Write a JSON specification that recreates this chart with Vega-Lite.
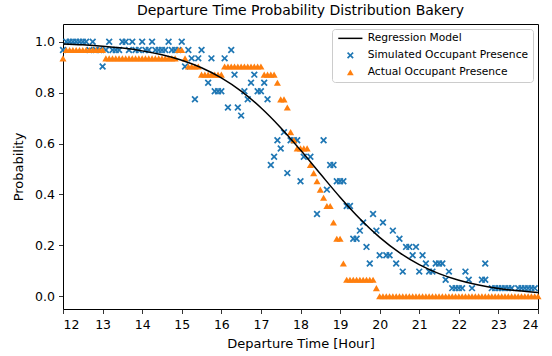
{
  "$schema": "https://vega.github.io/schema/vega-lite/v6.json",
  "width": 475,
  "height": 285,
  "autosize": {"type": "none"},
  "padding": {"left": 63, "top": 24, "right": 14, "bottom": 47},
  "title": {"text": "Departure Time Probability Distribution Bakery", "fontSize": 14, "fontWeight": "normal", "offset": 6, "color": "black", "font": "DejaVu Sans"},
  "config": {
    "font": "DejaVu Sans",
    "view": {"stroke": "black", "strokeWidth": 1},
    "axis": {"grid": false, "domain": false, "tickColor": "black", "tickSize": 4.5, "tickWidth": 0.8, "labelColor": "black", "labelFontSize": 12.5, "titleColor": "black", "titleFontSize": 13, "titleFontWeight": "normal", "labelPadding": 4}
  },
  "datasets": {
    "curve": [
      {"t": 12, "p": 0.9918}, {"t": 12.5, "p": 0.9882}, {"t": 13, "p": 0.9829}, {"t": 13.5, "p": 0.9753},
      {"t": 14, "p": 0.9644}, {"t": 14.5, "p": 0.9491}, {"t": 15, "p": 0.9276}, {"t": 15.5, "p": 0.898},
      {"t": 16, "p": 0.8581}, {"t": 16.5, "p": 0.8061}, {"t": 17, "p": 0.7408}, {"t": 17.5, "p": 0.6626},
      {"t": 18, "p": 0.5744}, {"t": 18.5, "p": 0.4813}, {"t": 19, "p": 0.3894}, {"t": 19.5, "p": 0.3047},
      {"t": 20, "p": 0.2315}, {"t": 20.5, "p": 0.1715}, {"t": 21, "p": 0.1246}, {"t": 21.5, "p": 0.0891},
      {"t": 22, "p": 0.063}, {"t": 22.5, "p": 0.0441}, {"t": 23, "p": 0.0308}, {"t": 23.5, "p": 0.0214},
      {"t": 24, "p": 0.0148}
    ],
    "sim": [
      {"t": 12.0, "p": 0.968}, {"t": 12.083, "p": 1}, {"t": 12.167, "p": 1}, {"t": 12.25, "p": 1},
      {"t": 12.333, "p": 1}, {"t": 12.417, "p": 1}, {"t": 12.5, "p": 1}, {"t": 12.583, "p": 1},
      {"t": 12.667, "p": 0.968}, {"t": 12.75, "p": 1}, {"t": 12.833, "p": 0.968}, {"t": 12.917, "p": 0.968},
      {"t": 13.0, "p": 0.903}, {"t": 13.083, "p": 0.968}, {"t": 13.167, "p": 1}, {"t": 13.25, "p": 0.968},
      {"t": 13.333, "p": 0.968}, {"t": 13.417, "p": 0.968}, {"t": 13.5, "p": 1}, {"t": 13.583, "p": 1},
      {"t": 13.667, "p": 0.968}, {"t": 13.75, "p": 1}, {"t": 13.833, "p": 0.968}, {"t": 13.917, "p": 0.968},
      {"t": 14.0, "p": 1}, {"t": 14.083, "p": 0.968}, {"t": 14.167, "p": 0.968}, {"t": 14.25, "p": 1},
      {"t": 14.333, "p": 0.968}, {"t": 14.417, "p": 0.968}, {"t": 14.5, "p": 0.968}, {"t": 14.583, "p": 0.968},
      {"t": 14.667, "p": 1}, {"t": 14.75, "p": 0.968}, {"t": 14.833, "p": 0.968}, {"t": 14.917, "p": 0.968},
      {"t": 15.0, "p": 1}, {"t": 15.083, "p": 0.903}, {"t": 15.167, "p": 0.968}, {"t": 15.25, "p": 0.935},
      {"t": 15.333, "p": 0.774}, {"t": 15.417, "p": 0.935}, {"t": 15.5, "p": 0.968}, {"t": 15.667, "p": 0.839},
      {"t": 15.75, "p": 0.935}, {"t": 15.833, "p": 0.806}, {"t": 15.917, "p": 0.806}, {"t": 16.0, "p": 0.806},
      {"t": 16.083, "p": 0.935}, {"t": 16.167, "p": 0.742}, {"t": 16.25, "p": 0.968}, {"t": 16.333, "p": 0.871},
      {"t": 16.417, "p": 0.742}, {"t": 16.5, "p": 0.71}, {"t": 16.583, "p": 0.806}, {"t": 16.667, "p": 0.774},
      {"t": 16.75, "p": 0.839}, {"t": 16.833, "p": 0.871}, {"t": 16.917, "p": 0.806}, {"t": 17.0, "p": 0.806},
      {"t": 17.083, "p": 0.839}, {"t": 17.167, "p": 0.774}, {"t": 17.25, "p": 0.516}, {"t": 17.333, "p": 0.548},
      {"t": 17.417, "p": 0.613}, {"t": 17.5, "p": 0.581}, {"t": 17.583, "p": 0.645}, {"t": 17.667, "p": 0.484},
      {"t": 17.75, "p": 0.613}, {"t": 17.833, "p": 0.613}, {"t": 17.917, "p": 0.613}, {"t": 18.0, "p": 0.452},
      {"t": 18.083, "p": 0.548}, {"t": 18.25, "p": 0.548}, {"t": 18.417, "p": 0.323}, {"t": 18.583, "p": 0.613},
      {"t": 18.667, "p": 0.419}, {"t": 18.75, "p": 0.516}, {"t": 18.833, "p": 0.516}, {"t": 18.917, "p": 0.452},
      {"t": 19.0, "p": 0.452}, {"t": 19.083, "p": 0.452}, {"t": 19.167, "p": 0.355}, {"t": 19.25, "p": 0.355},
      {"t": 19.333, "p": 0.226}, {"t": 19.417, "p": 0.226}, {"t": 19.5, "p": 0.258}, {"t": 19.583, "p": 0.29},
      {"t": 19.667, "p": 0.194}, {"t": 19.75, "p": 0.129}, {"t": 19.833, "p": 0.323}, {"t": 19.917, "p": 0.258},
      {"t": 20.0, "p": 0.161}, {"t": 20.083, "p": 0.29}, {"t": 20.167, "p": 0.161}, {"t": 20.25, "p": 0.161},
      {"t": 20.333, "p": 0.258}, {"t": 20.417, "p": 0.129}, {"t": 20.5, "p": 0.226}, {"t": 20.583, "p": 0.097},
      {"t": 20.667, "p": 0.194}, {"t": 20.75, "p": 0.194}, {"t": 20.833, "p": 0.161}, {"t": 20.917, "p": 0.194},
      {"t": 21.0, "p": 0.097}, {"t": 21.083, "p": 0.161}, {"t": 21.167, "p": 0.129}, {"t": 21.25, "p": 0.097},
      {"t": 21.333, "p": 0.097}, {"t": 21.417, "p": 0.129}, {"t": 21.5, "p": 0.129}, {"t": 21.583, "p": 0.129},
      {"t": 21.667, "p": 0.065}, {"t": 21.75, "p": 0.097}, {"t": 21.833, "p": 0.032}, {"t": 21.917, "p": 0.032},
      {"t": 22.0, "p": 0.032}, {"t": 22.083, "p": 0.032}, {"t": 22.167, "p": 0.097}, {"t": 22.25, "p": 0.065},
      {"t": 22.333, "p": 0.032}, {"t": 22.583, "p": 0.065}, {"t": 22.667, "p": 0.065}, {"t": 22.667, "p": 0.129},
      {"t": 22.833, "p": 0.032}, {"t": 22.917, "p": 0.032}, {"t": 23.0, "p": 0.032}, {"t": 23.083, "p": 0.032},
      {"t": 23.167, "p": 0.032}, {"t": 23.25, "p": 0.032}, {"t": 23.333, "p": 0.032}, {"t": 23.5, "p": 0.032},
      {"t": 23.583, "p": 0.032}, {"t": 23.667, "p": 0.032}, {"t": 23.75, "p": 0.032}, {"t": 23.833, "p": 0.032},
      {"t": 23.917, "p": 0.032}
    ],
    "act": [
      {"t": 12.0, "p": 0.935}, {"t": 12.083, "p": 0.968}, {"t": 12.167, "p": 0.968}, {"t": 12.25, "p": 0.968},
      {"t": 12.333, "p": 0.968}, {"t": 12.417, "p": 0.968}, {"t": 12.5, "p": 0.968}, {"t": 12.583, "p": 0.968},
      {"t": 12.667, "p": 0.968}, {"t": 12.75, "p": 0.968}, {"t": 12.833, "p": 0.968}, {"t": 12.917, "p": 0.968},
      {"t": 13.0, "p": 0.968}, {"t": 13.083, "p": 0.935}, {"t": 13.167, "p": 0.935}, {"t": 13.25, "p": 0.935},
      {"t": 13.333, "p": 0.935}, {"t": 13.417, "p": 0.935}, {"t": 13.5, "p": 0.935}, {"t": 13.583, "p": 0.935},
      {"t": 13.667, "p": 0.935}, {"t": 13.75, "p": 0.935}, {"t": 13.833, "p": 0.935}, {"t": 13.917, "p": 0.935},
      {"t": 14.0, "p": 0.935}, {"t": 14.083, "p": 0.935}, {"t": 14.167, "p": 0.935}, {"t": 14.25, "p": 0.935},
      {"t": 14.333, "p": 0.935}, {"t": 14.417, "p": 0.935}, {"t": 14.5, "p": 0.935}, {"t": 14.583, "p": 0.935},
      {"t": 14.667, "p": 0.935}, {"t": 14.75, "p": 0.935}, {"t": 14.833, "p": 0.935}, {"t": 14.917, "p": 0.968},
      {"t": 15.0, "p": 0.968}, {"t": 15.083, "p": 0.935}, {"t": 15.167, "p": 0.903}, {"t": 15.25, "p": 0.903},
      {"t": 15.333, "p": 0.903}, {"t": 15.417, "p": 0.903}, {"t": 15.5, "p": 0.871}, {"t": 15.583, "p": 0.871},
      {"t": 15.667, "p": 0.871}, {"t": 15.75, "p": 0.871}, {"t": 15.833, "p": 0.871}, {"t": 15.917, "p": 0.871},
      {"t": 16.0, "p": 0.871}, {"t": 16.083, "p": 0.903}, {"t": 16.167, "p": 0.903}, {"t": 16.25, "p": 0.903},
      {"t": 16.333, "p": 0.903}, {"t": 16.417, "p": 0.903}, {"t": 16.5, "p": 0.903}, {"t": 16.583, "p": 0.903},
      {"t": 16.667, "p": 0.903}, {"t": 16.75, "p": 0.903}, {"t": 16.833, "p": 0.903}, {"t": 16.917, "p": 0.903},
      {"t": 17.0, "p": 0.903}, {"t": 17.083, "p": 0.871}, {"t": 17.167, "p": 0.871}, {"t": 17.25, "p": 0.871},
      {"t": 17.333, "p": 0.871}, {"t": 17.417, "p": 0.839}, {"t": 17.5, "p": 0.774}, {"t": 17.583, "p": 0.774},
      {"t": 17.667, "p": 0.742}, {"t": 17.75, "p": 0.645}, {"t": 17.833, "p": 0.613}, {"t": 17.917, "p": 0.581},
      {"t": 18.0, "p": 0.581}, {"t": 18.083, "p": 0.581}, {"t": 18.167, "p": 0.581}, {"t": 18.25, "p": 0.516},
      {"t": 18.333, "p": 0.484}, {"t": 18.417, "p": 0.452}, {"t": 18.5, "p": 0.419}, {"t": 18.583, "p": 0.387},
      {"t": 18.667, "p": 0.355}, {"t": 18.75, "p": 0.355}, {"t": 18.833, "p": 0.29}, {"t": 18.917, "p": 0.226},
      {"t": 19.0, "p": 0.226}, {"t": 19.083, "p": 0.129}, {"t": 19.167, "p": 0.065}, {"t": 19.25, "p": 0.065},
      {"t": 19.333, "p": 0.065}, {"t": 19.417, "p": 0.065}, {"t": 19.5, "p": 0.065}, {"t": 19.583, "p": 0.065},
      {"t": 19.667, "p": 0.065}, {"t": 19.75, "p": 0.065}, {"t": 19.833, "p": 0.065}, {"t": 19.917, "p": 0.032},
      {"t": 20.0, "p": 0}, {"t": 20.083, "p": 0}, {"t": 20.167, "p": 0}, {"t": 20.25, "p": 0},
      {"t": 20.333, "p": 0}, {"t": 20.417, "p": 0}, {"t": 20.5, "p": 0}, {"t": 20.583, "p": 0},
      {"t": 20.667, "p": 0}, {"t": 20.75, "p": 0}, {"t": 20.833, "p": 0}, {"t": 20.917, "p": 0},
      {"t": 21.0, "p": 0}, {"t": 21.083, "p": 0}, {"t": 21.167, "p": 0}, {"t": 21.25, "p": 0},
      {"t": 21.333, "p": 0}, {"t": 21.417, "p": 0}, {"t": 21.5, "p": 0}, {"t": 21.583, "p": 0},
      {"t": 21.667, "p": 0}, {"t": 21.75, "p": 0}, {"t": 21.833, "p": 0}, {"t": 21.917, "p": 0},
      {"t": 22.0, "p": 0}, {"t": 22.083, "p": 0}, {"t": 22.167, "p": 0}, {"t": 22.25, "p": 0},
      {"t": 22.333, "p": 0}, {"t": 22.417, "p": 0}, {"t": 22.5, "p": 0}, {"t": 22.583, "p": 0},
      {"t": 22.667, "p": 0}, {"t": 22.75, "p": 0}, {"t": 22.833, "p": 0}, {"t": 22.917, "p": 0},
      {"t": 23.0, "p": 0}, {"t": 23.083, "p": 0}, {"t": 23.167, "p": 0}, {"t": 23.25, "p": 0},
      {"t": 23.333, "p": 0}, {"t": 23.417, "p": 0}, {"t": 23.5, "p": 0}, {"t": 23.583, "p": 0},
      {"t": 23.667, "p": 0}, {"t": 23.75, "p": 0}, {"t": 23.833, "p": 0}, {"t": 23.917, "p": 0},
      {"t": 24.0, "p": 0}
    ]
  },
  "encoding": {
    "x": {"field": "t", "type": "quantitative", "scale": {"domain": [12, 24], "nice": false, "zero": false},
          "axis": {"values": [12, 13, 14, 15, 16, 17, 18, 19, 20, 21, 22, 23, 24], "format": "d", "title": "Departure Time [Hour]", "titlePadding": 6, "labelPadding": 5}},
    "y": {"field": "p", "type": "quantitative", "scale": {"domain": [-0.05, 1.07], "nice": false, "zero": false},
          "axis": {"values": [0, 0.2, 0.4, 0.6, 0.8, 1.0], "format": ".1f", "title": "Probability", "titlePadding": 9}}
  },
  "layer": [
    {
      "data": {"name": "sim"},
      "mark": {"type": "point", "filled": true, "size": 48, "strokeWidth": 0, "opacity": 1},
      "encoding": {
        "color": {"datum": "Simulated Occupant Presence", "type": "nominal",
          "scale": {"domain": ["Regression Model", "Simulated Occupant Presence", "Actual Occupant Presence"], "range": ["black", "#1f77b4", "#ff7f0e"]},
          "legend": {
            "title": null, "orient": "top-right", "offset": 5, "fillColor": "white", "strokeColor": "#cccccc", "cornerRadius": 3,
            "padding": 4, "labelFontSize": 10.7, "labelLimit": 300, "labelColor": "black", "symbolSize": 45, "symbolStrokeWidth": 0, "symbolOpacity": 1,
            "rowPadding": 5, "labelOffset": 12, "symbolOffset": 9
          }},
        "shape": {"datum": "Simulated Occupant Presence", "type": "nominal",
          "scale": {"domain": ["Regression Model", "Simulated Occupant Presence", "Actual Occupant Presence"],
                    "range": ["M-3.6,-0.22L3.6,-0.22L3.6,0.22L-3.6,0.22Z", "M-1,-0.65L-0.65,-1L0,-0.35L0.65,-1L1,-0.65L0.35,0L1,0.65L0.65,1L0,0.35L-0.65,1L-1,0.65L-0.35,0Z", "triangle-up"]}}
      }
    },
    {
      "data": {"name": "act"},
      "mark": {"type": "point", "filled": true, "size": 50, "strokeWidth": 0, "opacity": 1},
      "encoding": {
        "color": {"datum": "Actual Occupant Presence", "type": "nominal"},
        "shape": {"datum": "Actual Occupant Presence", "type": "nominal"}
      }
    },
    {
      "data": {"name": "curve"},
      "mark": {"type": "line", "interpolate": "monotone", "strokeWidth": 1.5},
      "encoding": {"color": {"datum": "Regression Model", "type": "nominal"}}
    }
  ]
}
